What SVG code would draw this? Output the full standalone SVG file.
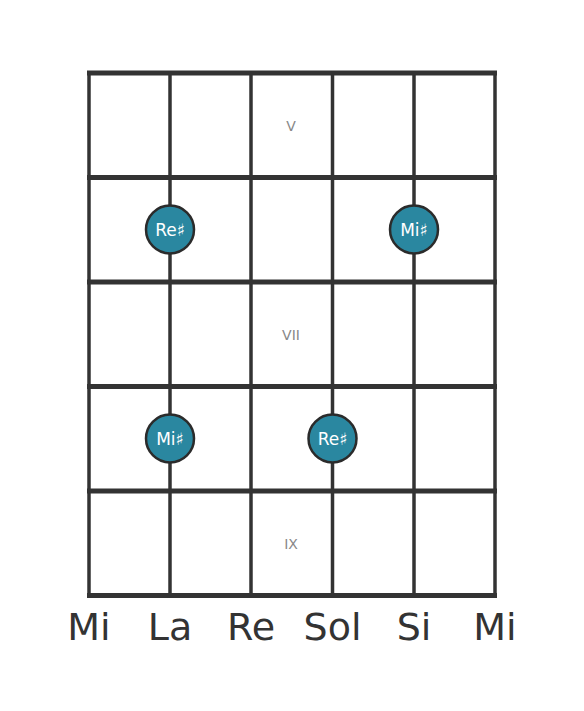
<svg xmlns="http://www.w3.org/2000/svg" width="584" height="711" viewBox="0 0 584 711">
<style>
.s{stroke:#333;stroke-width:3.5}
.f{stroke:#333;stroke-width:5}
.dot{fill:#2a87a0;stroke:#2b2b2b;stroke-width:2.5}
.dt{font-family:"DejaVu Sans",sans-serif;font-size:17px;fill:#fff;text-anchor:middle}
.rn{font-family:"DejaVu Sans",sans-serif;font-size:14px;fill:#888;text-anchor:middle}
.lb{font-family:"DejaVu Sans",sans-serif;font-size:38px;fill:#333;text-anchor:middle}
</style>
<rect width="584" height="711" fill="#fff"/>
<g id="connectors">
<line class="s" x1="89" y1="72" x2="89" y2="596"/>
<line class="s" x1="170" y1="72" x2="170" y2="596"/>
<line class="s" x1="251" y1="72" x2="251" y2="596"/>
<line class="s" x1="332.5" y1="72" x2="332.5" y2="596"/>
<line class="s" x1="414" y1="72" x2="414" y2="596"/>
<line class="s" x1="495" y1="72" x2="495" y2="596"/>
<line class="f" x1="87" y1="73" x2="497" y2="73"/>
<line class="f" x1="87" y1="177.5" x2="497" y2="177.5"/>
<line class="f" x1="87" y1="282" x2="497" y2="282"/>
<line class="f" x1="87" y1="386.5" x2="497" y2="386.5"/>
<line class="f" x1="87" y1="491" x2="497" y2="491"/>
<line class="f" x1="87" y1="595.5" x2="497" y2="595.5"/>
</g>
<g id="fret-numbers">
<text class="rn" x="291" y="131">V</text>
<text class="rn" x="291" y="340">VII</text>
<text class="rn" x="291" y="549">IX</text>
</g>
<g id="n1"><circle class="dot" cx="170" cy="229.5" r="24"/><text class="dt" x="170" y="235.5">Re♯</text></g>
<g id="n2"><circle class="dot" cx="414" cy="229.5" r="24"/><text class="dt" x="414" y="235.5">Mi♯</text></g>
<g id="n3"><circle class="dot" cx="170" cy="438.5" r="24"/><text class="dt" x="170" y="444.5">Mi♯</text></g>
<g id="n4"><circle class="dot" cx="332.5" cy="438.5" r="24"/><text class="dt" x="332.5" y="444.5">Re♯</text></g>
<g id="labels">
<text class="lb" x="89" y="640">Mi</text>
<text class="lb" x="170" y="640">La</text>
<text class="lb" x="251" y="640">Re</text>
<text class="lb" x="332.5" y="640">Sol</text>
<text class="lb" x="414" y="640">Si</text>
<text class="lb" x="495" y="640">Mi</text>
</g>
</svg>
